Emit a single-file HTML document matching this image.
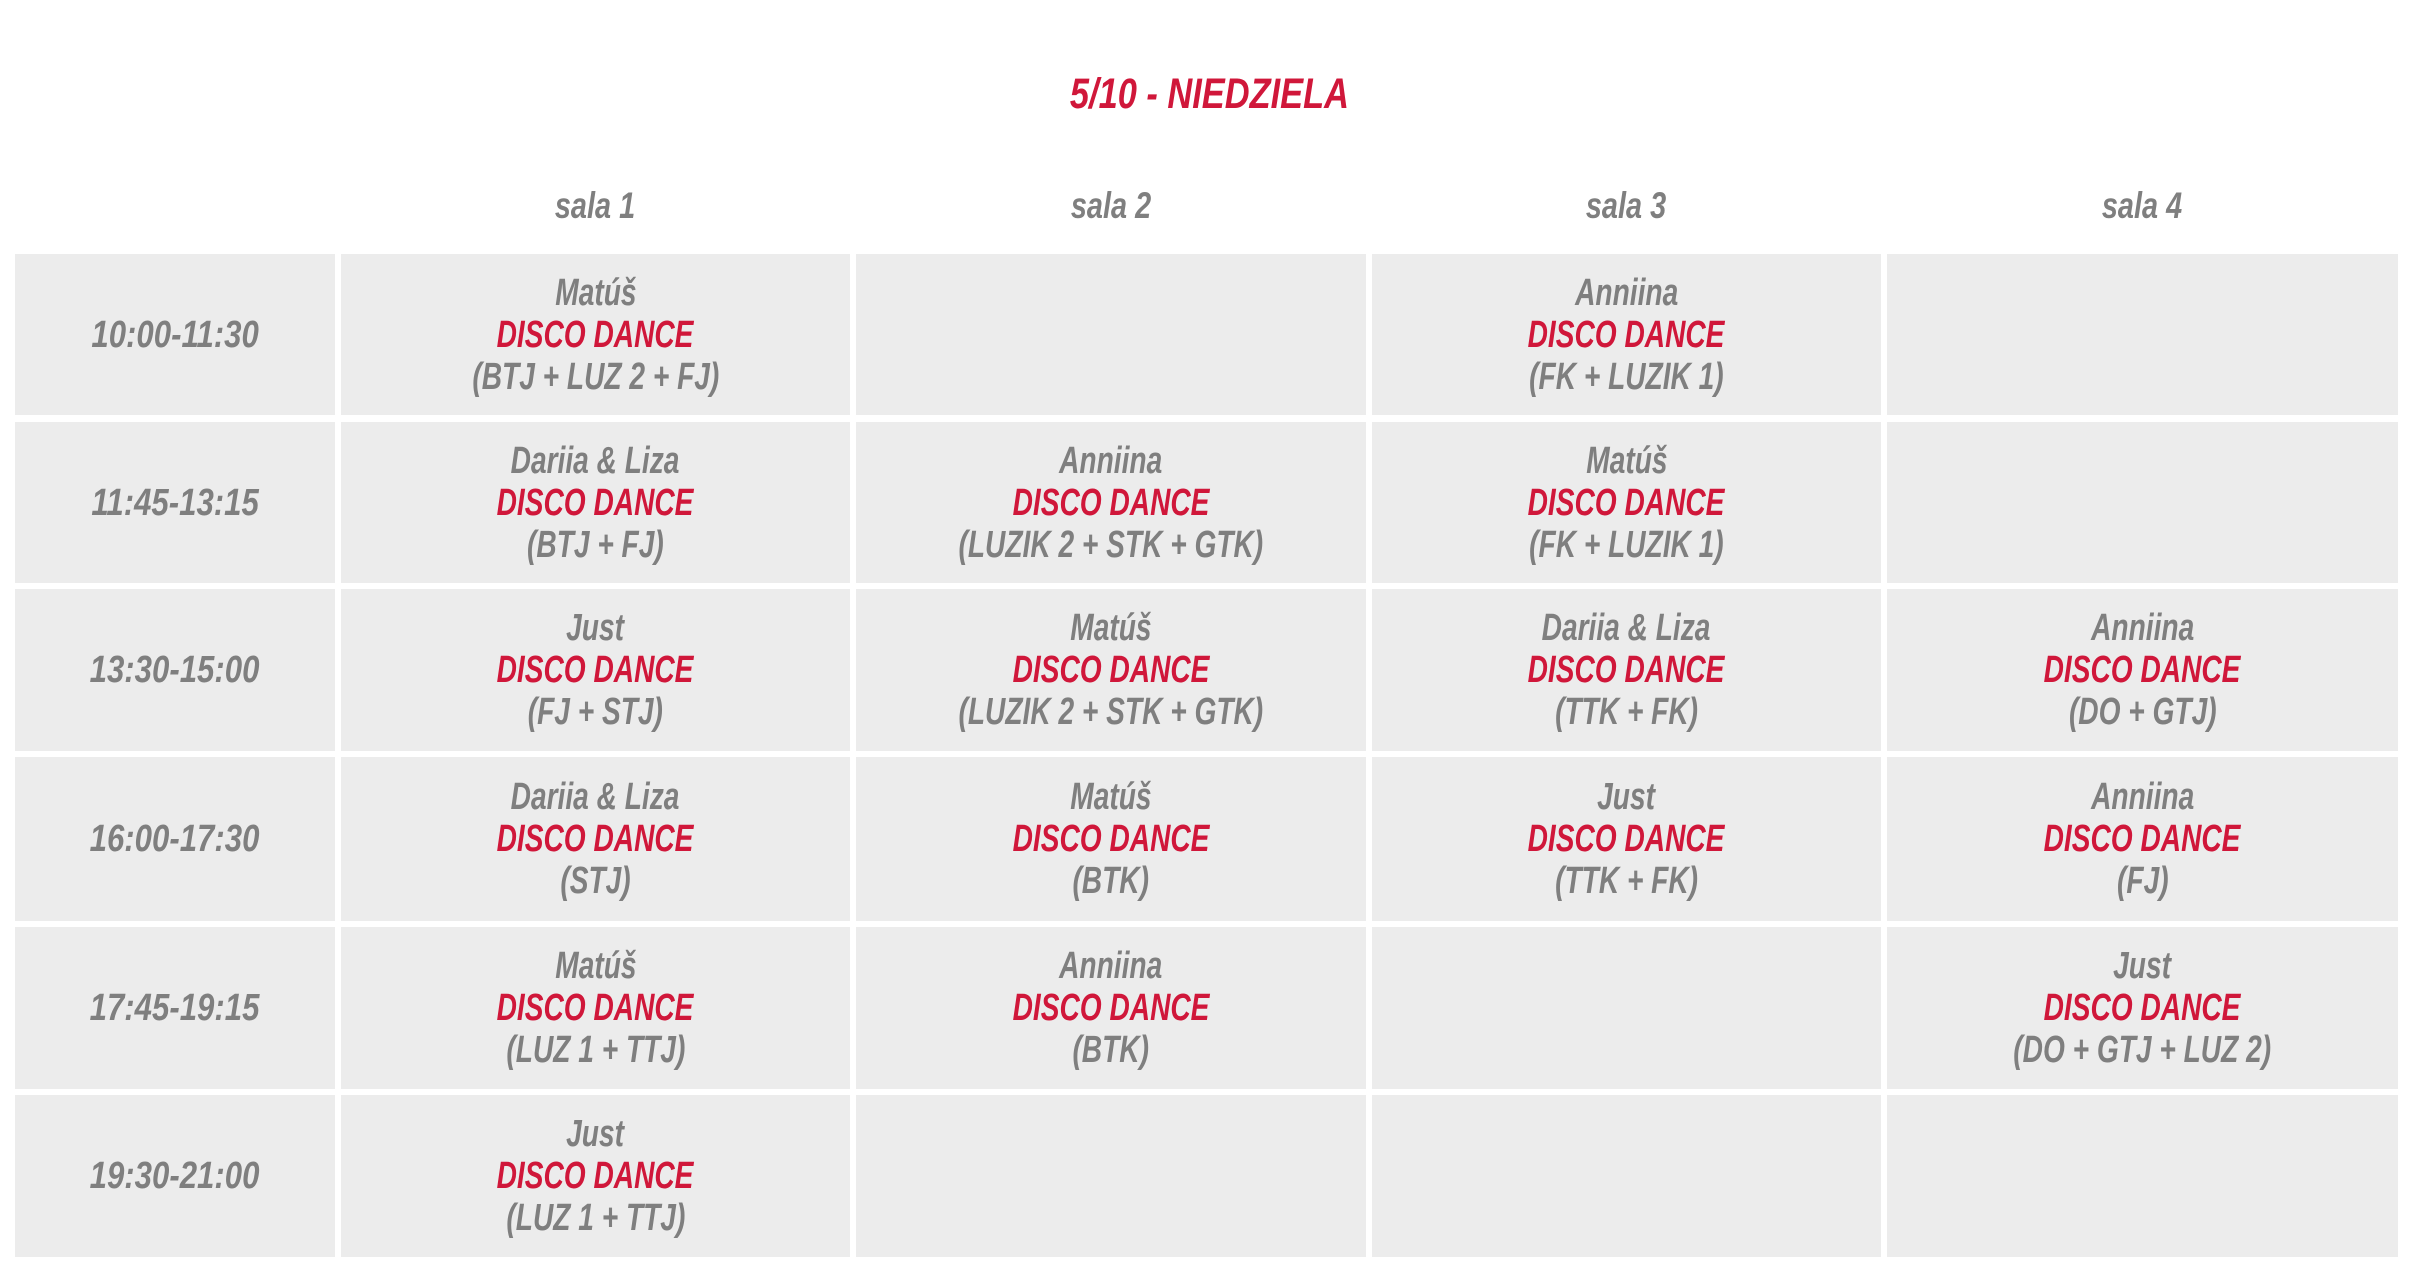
<!DOCTYPE html>
<html><head><meta charset="utf-8"><style>
body{margin:0;width:2418px;height:1270px;background:#fff;position:relative;overflow:hidden;font-family:"Liberation Sans",sans-serif;font-weight:bold;font-style:italic}
.c{position:absolute;background:#ececec;display:flex;flex-direction:column;align-items:center;justify-content:center}
.t{display:block;transform:scaleX(0.74);white-space:nowrap;font-size:38px;line-height:42px;color:#7f7f7f;text-align:center}
.tm{transform:scaleX(0.82)}
.r{color:#d0173a}
.h{position:absolute;top:185px;font-size:37px;color:#7f7f7f;transform:scaleX(0.78);text-align:center;width:300px;white-space:nowrap}
.title{position:absolute;top:70px;left:0;width:2418px;text-align:center;font-size:43px;color:#d0173a}
.title span{display:inline-block;transform:scaleX(0.8)}
</style></head><body>
<div class="title"><span>5/10 - NIEDZIELA</span></div>
<div class="h" style="left:445px">sala 1</div>
<div class="h" style="left:961px">sala 2</div>
<div class="h" style="left:1476px">sala 3</div>
<div class="h" style="left:1992px">sala 4</div>
<div id="g"></div>
<script>
var cols=[[15,335],[341,850],[856,1366],[1372,1881],[1887,2398]];
var rows=[[254,415],[422,583],[589,751],[757,921],[927,1089],[1095,1257]];
var times=["10:00-11:30","11:45-13:15","13:30-15:00","16:00-17:30","17:45-19:15","19:30-21:00"];
var d=[
[["Matúš","(BTJ + LUZ 2 + FJ)"],null,["Anniina","(FK + LUZIK 1)"],null],
[["Dariia &amp; Liza","(BTJ + FJ)"],["Anniina","(LUZIK 2 + STK + GTK)"],["Matúš","(FK + LUZIK 1)"],null],
[["Just","(FJ + STJ)"],["Matúš","(LUZIK 2 + STK + GTK)"],["Dariia &amp; Liza","(TTK + FK)"],["Anniina","(DO + GTJ)"]],
[["Dariia &amp; Liza","(STJ)"],["Matúš","(BTK)"],["Just","(TTK + FK)"],["Anniina","(FJ)"]],
[["Matúš","(LUZ 1 + TTJ)"],["Anniina","(BTK)"],null,["Just","(DO + GTJ + LUZ 2)"]],
[["Just","(LUZ 1 + TTJ)"],null,null,null]];
var h="";
for(var i=0;i<6;i++){var r=rows[i];
 for(var j=0;j<5;j++){var c=cols[j];
  var s='<div class="c" style="left:'+c[0]+'px;top:'+r[0]+'px;width:'+(c[1]-c[0])+'px;height:'+(r[1]-r[0])+'px">';
  if(j==0)s+='<span class="t tm">'+times[i]+'</span>';
  else{var e=d[i][j-1];if(e)s+='<span class="t">'+e[0]+'</span><span class="t r">DISCO DANCE</span><span class="t">'+e[1]+'</span>';}
  h+=s+'</div>';}}
document.getElementById("g").innerHTML=h;
</script>
</body></html>
